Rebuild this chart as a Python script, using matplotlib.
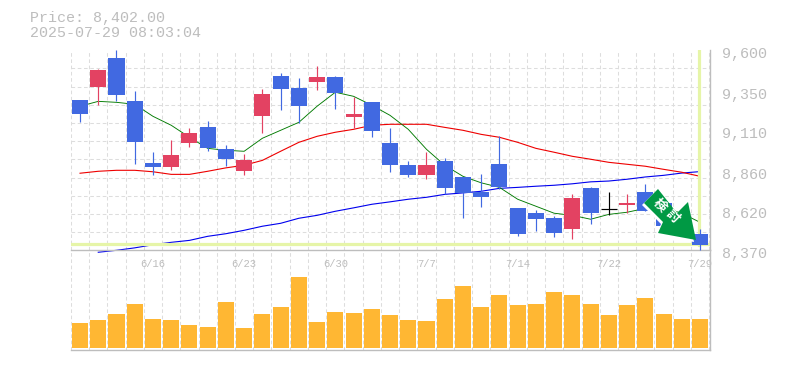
import numpy as np
import matplotlib
matplotlib.use('Agg')
import matplotlib.pyplot as plt
from matplotlib.patches import Polygon
from matplotlib.transforms import IdentityTransform, ScaledTranslation

# daily candles
opens = [9292, 9372, 9551, 9286, 8905, 8880, 9028, 9126, 8991, 8856, 9194, 9440,
         9366, 9403, 9434, 9188, 9280, 9028, 8893, 8831, 8917, 8819, 8727, 8899,
         8628, 8598, 8567, 8499, 8751, 8622, 8647, 8727, 8659, 8542, 8468]
closes = [9206, 9477, 9323, 9034, 8880, 8954, 9090, 8997, 8930, 8923, 9329, 9360,
          9256, 9434, 9336, 9206, 9102, 8893, 8831, 8893, 8751, 8721, 8696, 8757,
          8468, 8561, 8475, 8690, 8598, 8622, 8659, 8610, 8518, 8468, 8402]
highs = [9292, 9483, 9600, 9348, 8973, 9047, 9120, 9163, 9016, 8960, 9360, 9459,
         9428, 9502, 9440, 9311, 9280, 9120, 8917, 8973, 8936, 8819, 8837, 9071,
         8628, 8616, 8579, 8714, 8757, 8727, 8714, 8776, 8659, 8542, 8499]
lows = [9157, 9262, 9286, 8899, 8831, 8862, 9003, 8979, 8887, 8831, 9090, 9231,
        9151, 9354, 9237, 9120, 9065, 8850, 8819, 8807, 8714, 8567, 8634, 8745,
        8456, 8487, 8450, 8438, 8530, 8585, 8598, 8610, 8518, 8468, 8370]

ma_short = [9256, 9286, 9280, 9268, 9194, 9139, 9065, 8997, 8985, 8979, 9059, 9108,
            9157, 9256, 9342, 9317, 9262, 9200, 9114, 8991, 8893, 8825, 8785, 8757,
            8684, 8641, 8598, 8585, 8561, 8591, 8604, 8628, 8634, 8598, 8542]
ma_mid = [8844, 8856, 8862, 8862, 8853, 8837, 8837, 8856, 8877, 8893, 8923, 8979,
          9034, 9071, 9096, 9114, 9139, 9145, 9145, 9145, 9126, 9108, 9083, 9065,
          9034, 8997, 8973, 8948, 8930, 8911, 8899, 8887, 8868, 8850, 8825]
ma_long = [np.nan, 8358, 8370, 8385, 8404, 8419, 8431, 8456, 8472, 8493, 8518, 8536,
           8567, 8585, 8610, 8631, 8653, 8668, 8684, 8696, 8714, 8723, 8733, 8751,
           8757, 8764, 8770, 8779, 8791, 8796, 8807, 8821, 8831, 8845, 8854]

volumes = [76, 85, 103, 133, 88, 85, 70, 64, 139, 61, 103, 124, 214, 79, 109, 106, 118, 100,
           85, 82, 148, 187, 124, 160, 130, 133, 169, 160, 133, 100, 130, 151, 103, 88, 88]

price_ticks = [8370, 8620, 8860, 9110, 9350, 9600]
date_ticks = [4, 9, 14, 19, 24, 29, 34]
date_labels = ['6/16', '6/23', '6/30', '7/7', '7/14', '7/22', '7/29']
last_price = 8402

W, H = 785, 370
MONO = 'Liberation Mono'
GRAY = '#bdbdbd'
GRID = '#dddddd'
BLUE = '#4169e1'
RED = '#e34262'
PALE = '#e6f5a8'


def px_box(left, top, right, bottom):
    return [left / W, 1 - bottom / H, (right - left) / W, (bottom - top) / H]


fig = plt.figure(figsize=(W / 100, H / 100), dpi=100)
ax_vol = fig.add_axes(px_box(70.9, 250.3, 709.7, 350.3))
ax = fig.add_axes(px_box(70.9, 50.3, 709.7, 250.3))
ax.set_zorder(3)
ax.patch.set_visible(False)

x = np.arange(len(opens))
bar_w = 0.88

for a in (ax, ax_vol):
    a.set_xlim(-0.5, 34.53)
    a.set_xticks(np.arange(-0.5, 35), minor=True)
    a.grid(which='minor', axis='x', color=GRID, ls=(0, (3.5, 2.5)), lw=0.75)
    a.tick_params(which='both', length=0)
    a.set_axisbelow(True)
    for s in ('top', 'left', 'bottom'):
        a.spines[s].set_visible(False)
    a.spines['right'].set_color(GRAY)
    a.spines['right'].set_linewidth(1.0)
    a.spines['bottom'].set_color(GRAY)
    a.spines['bottom'].set_visible(True)
    a.spines['bottom'].set_linewidth(1.0)

ax.set_ylim(8370, 9600)
ax.set_yticks(np.linspace(8370, 9600, 12), minor=True)
ax.grid(which='minor', axis='y', color=GRID, ls=(0, (3.5, 2.5)), lw=0.75)
ax.yaxis.tick_right()
ax.set_yticks(price_ticks)
ax.set_yticklabels([f'{p:,}' for p in price_ticks], family=MONO, fontsize=10.8, color=GRAY)
ax.tick_params(axis='y', which='major', pad=9)
offset = ScaledTranslation(0, -2.5 / 100, fig.dpi_scale_trans)
for lab in ax.get_yticklabels():
    lab.set_transform(lab.get_transform() + offset)

ax.set_xticks(date_ticks)
ax.set_xticklabels(date_labels, family=MONO, fontsize=7.6, color=GRAY)
ax.tick_params(axis='x', which='major', pad=6)

# moving averages sit behind the candles
ax.plot(x, ma_long, color='#0000ee', lw=0.8, zorder=2, clip_on=False)
ax.plot(x, ma_mid, color='#ee0000', lw=0.8, zorder=2)
ax.plot(x, ma_short, color='#007a00', lw=0.65, zorder=2)

# current price guides
ax.axhline(last_price + 6, color=PALE, lw=2.3, zorder=2.5)
ax.axvline(34 - 0.03, color=PALE, lw=2.3, ymin=0.025, zorder=2.5)

for i in x:
    o, c = opens[i], closes[i]
    col = BLUE if c < o else RED if c > o else 'black'
    ax.vlines(i, lows[i], highs[i], color=col, lw=0.85, zorder=3, clip_on=False)
    if o == c:
        ax.hlines(o, i - bar_w / 2, i + bar_w / 2, color=col, lw=0.85, zorder=3)
    else:
        ax.bar(i, abs(c - o), bottom=min(o, c), width=bar_w, color=col, lw=0, zorder=3)

ax_vol.bar(x, volumes, width=bar_w, color='#ffb733', lw=0, zorder=3)
ax_vol.set_ylim(-6, 294)
ax_vol.set_yticks([])
ax_vol.set_xticks([])

fig.text(30 / W, 1 - 18 / H, f'Price: {last_price:,.2f}', family=MONO, fontsize=10.8,
         color=GRAY, va='center')
fig.text(30 / W, 1 - 33 / H, '2025-07-29 08:03:04', family=MONO, fontsize=10.8,
         color=GRAY, va='center')

# badge arrow, placed in image pixels; the white copy peeks out on the lower left
arrow_px = [(658, 189), (644, 203), (663, 222), (658, 233), (696, 240), (688, 202), (677, 213)]
fig.add_artist(Polygon([(px - 2, H - py - 2) for px, py in arrow_px], closed=True, facecolor='white',
                       lw=0, transform=IdentityTransform(), zorder=10))
fig.add_artist(Polygon([(px, H - py) for px, py in arrow_px], closed=True, facecolor='#009944',
                       lw=0, transform=IdentityTransform(), zorder=10.5))
for ch, (tx, ty) in zip('検討', [(660, 205), (673, 216)]):
    fig.text(tx / W, 1 - ty / H, ch, family='Noto Sans CJK JP', fontweight='bold', fontsize=9.5,
             color='white', rotation=-45, ha='center', va='center', zorder=11)

fig.savefig('out.png', dpi=100)
